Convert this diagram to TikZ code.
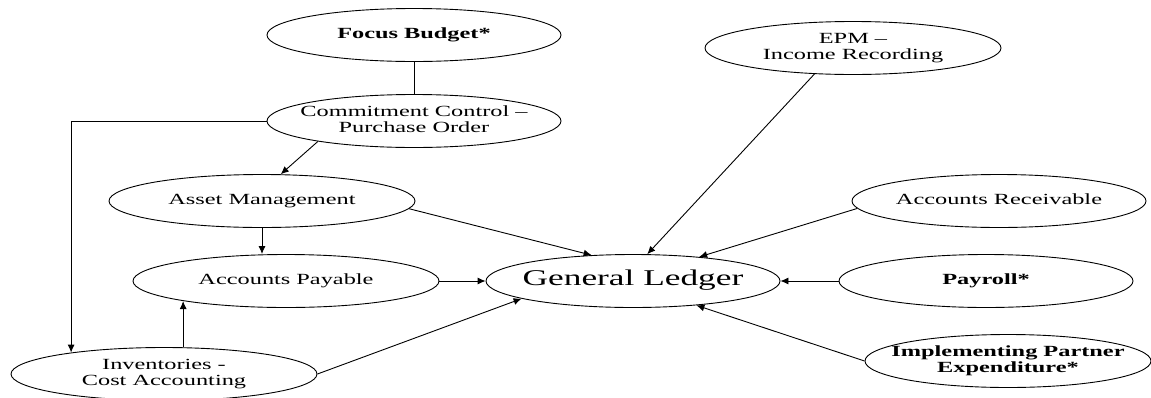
\documentclass[tikz,border=0pt]{standalone}
\usepackage{fontspec}
\setmainfont{Liberation Serif}[FakeStretch=1.57]
\usetikzlibrary{shapes.geometric,arrows.meta}
\newcommand{\elltext}[1]{\makebox[0pt]{\begin{tabular}{@{}c@{}}#1\end{tabular}}}

\begin{document}
\begin{tikzpicture}[x=1pt, y=-1pt, line width=0.9pt,
  oval/.style={draw, ellipse, inner sep=0pt, minimum width=294pt, minimum height=53pt,
    font=\fontsize{15.5}{16}\selectfont},
  wide/.style={minimum width=306pt},
  arr/.style={-{Latex[length=8pt,width=7pt]}}]
  \useasboundingbox (0,0) rectangle (1151,397);

  \node[oval] (fb) at (414,35) {\elltext{\textbf{Focus Budget*}}};
  \node[oval] (cc) at (414,121) {\elltext{Commitment Control --\\Purchase Order}};
  \node[oval, minimum width=296pt] (epm) at (853,48) {\elltext{EPM --\\Income Recording}};
  \node[oval, wide] (am) at (262,201) {\elltext{Asset Management}};
  \node[oval] (ar) at (999,201) {\elltext{Accounts Receivable}};
  \node[oval, wide] (ap) at (286,281) {\elltext{Accounts Payable}};
  \node[oval, font=\fontsize{22.5}{24}\selectfont] (gl) at (633,281) {\elltext{General Ledger}};
  \node[oval] (pay) at (986,281) {\elltext{\textbf{Payroll*}}};
  \node[oval, wide] (inv) at (164,374) {\elltext{Inventories -\\Cost Accounting}};
  \node[oval, minimum width=286pt] (ip) at (1008,361) {\elltext{\textbf{Implementing Partner}\\\textbf{Expenditure*}}};

  \draw (fb) -- (cc);
  \draw[arr] (cc.west) -| (inv.167);
  \draw[arr] (cc.192) -- (am.55);
  \draw[arr] (am.south) -- (am.south |- ap.north);
  \draw[arr] (ap.191 |- inv.north) -- (ap.191);
  \draw[arr] (am.357) -- (gl.148);
  \draw[arr] (ap) -- (gl);
  \draw[arr] (inv.east) -- (gl.189);
  \draw[arr] (epm.214) -- (gl.62);
  \draw[arr] (ar.183) -- (gl.20);
  \draw[arr] (pay) -- (gl);
  \draw[arr] (ip.west) -- (gl.339);
\end{tikzpicture}
\end{document}
